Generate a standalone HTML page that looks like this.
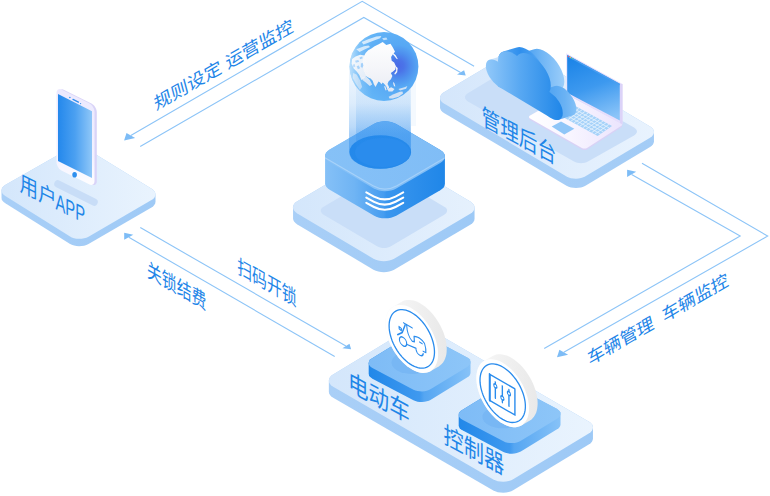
<!DOCTYPE html>
<html lang="zh"><head><meta charset="utf-8"><title>系统架构</title>
<style>html,body{margin:0;padding:0;background:#fff}svg{display:block}text{font-family:"Liberation Sans","Noto Sans CJK SC",sans-serif}</style></head>
<body><svg width="770" height="496" viewBox="0 0 770 496">
<defs><linearGradient id="p3t" x1="434.5" y1="0" x2="659.5" y2="0" gradientUnits="userSpaceOnUse"><stop offset="0" stop-color="#d4e6fb"/><stop offset="1" stop-color="#e9f3fe"/></linearGradient>
<linearGradient id="p3s" x1="434.5" y1="0" x2="659.5" y2="0" gradientUnits="userSpaceOnUse"><stop offset="0" stop-color="#a9cff7"/><stop offset="1" stop-color="#a3ccf6"/></linearGradient>
<linearGradient id="lb" x1="528" y1="0" x2="623" y2="0" gradientUnits="userSpaceOnUse"><stop offset="0" stop-color="#ffffff"/><stop offset="0.45" stop-color="#f8f5ff"/><stop offset="1" stop-color="#ebe4fd"/></linearGradient>
<linearGradient id="ls" x1="575" y1="55" x2="600" y2="122" gradientUnits="userSpaceOnUse"><stop offset="0" stop-color="#1a83e7"/><stop offset="0.5" stop-color="#3d99ef"/><stop offset="1" stop-color="#8ac4f8"/></linearGradient>
<linearGradient id="cf" x1="0" y1="0" x2="78" y2="0" gradientUnits="userSpaceOnUse"><stop offset="0" stop-color="#93c9f9"/><stop offset="0.45" stop-color="#58a8f2"/><stop offset="1" stop-color="#1f86e8"/></linearGradient>
<linearGradient id="csl" x1="0" y1="0" x2="30" y2="0" gradientUnits="userSpaceOnUse"><stop offset="0" stop-color="#d3e7fc"/><stop offset="1" stop-color="#b9dafa"/></linearGradient>
<linearGradient id="csm" x1="20" y1="0" x2="50" y2="0" gradientUnits="userSpaceOnUse"><stop offset="0" stop-color="#4da1f1"/><stop offset="0.5" stop-color="#2f8fed"/><stop offset="1" stop-color="#4da1f1"/></linearGradient>
<linearGradient id="csb" x1="35" y1="0" x2="82" y2="0" gradientUnits="userSpaceOnUse"><stop offset="0" stop-color="#3d98ee"/><stop offset="0.45" stop-color="#6fb5f5"/><stop offset="1" stop-color="#a0d0fa"/></linearGradient>
<linearGradient id="csr" x1="62" y1="0" x2="92" y2="0" gradientUnits="userSpaceOnUse"><stop offset="0" stop-color="#4fa3f1"/><stop offset="0.6" stop-color="#6ab2f4"/><stop offset="1" stop-color="#86c2f7"/></linearGradient>
<linearGradient id="p1t" x1="-4" y1="0" x2="161" y2="0" gradientUnits="userSpaceOnUse"><stop offset="0" stop-color="#d3e6fb"/><stop offset="1" stop-color="#eaf4fe"/></linearGradient>
<linearGradient id="p1s" x1="-4" y1="0" x2="161" y2="0" gradientUnits="userSpaceOnUse"><stop offset="0" stop-color="#a9cff7"/><stop offset="1" stop-color="#9fcaf6"/></linearGradient>
<linearGradient id="pb" x1="0" y1="90" x2="0" y2="187" gradientUnits="userSpaceOnUse"><stop offset="0" stop-color="#ece9fe"/><stop offset="0.7" stop-color="#f3f1ff"/><stop offset="1" stop-color="#ffffff"/></linearGradient>
<linearGradient id="ps" x1="58" y1="0" x2="92" y2="0" gradientUnits="userSpaceOnUse"><stop offset="0" stop-color="#2488ec"/><stop offset="0.5" stop-color="#4ba0f1"/><stop offset="1" stop-color="#8fc7f8"/></linearGradient>
<linearGradient id="p2t" x1="287" y1="0" x2="480.6" y2="0" gradientUnits="userSpaceOnUse"><stop offset="0" stop-color="#d3e6fb"/><stop offset="1" stop-color="#e6f1fd"/></linearGradient>
<linearGradient id="p2s" x1="287" y1="0" x2="480.6" y2="0" gradientUnits="userSpaceOnUse"><stop offset="0" stop-color="#a9cff7"/><stop offset="0.5" stop-color="#a3ccf6"/><stop offset="1" stop-color="#9dc9f6"/></linearGradient>
<linearGradient id="bs" x1="324" y1="0" x2="446" y2="0" gradientUnits="userSpaceOnUse"><stop offset="0" stop-color="#86c1f7"/><stop offset="0.25" stop-color="#6fb4f4"/><stop offset="0.49" stop-color="#459cf0"/><stop offset="0.51" stop-color="#3a96ee"/><stop offset="1" stop-color="#1f86e8"/></linearGradient>
<linearGradient id="bt" x1="324" y1="0" x2="446" y2="0" gradientUnits="userSpaceOnUse"><stop offset="0" stop-color="#86c1f7"/><stop offset="1" stop-color="#80bdf6"/></linearGradient>
<linearGradient id="cy" x1="0" y1="70" x2="0" y2="165" gradientUnits="userSpaceOnUse"><stop offset="0" stop-color="#2a8ced" stop-opacity="0.07"/><stop offset="0.35" stop-color="#2a8ced" stop-opacity="0.16"/><stop offset="0.6" stop-color="#2a8ced" stop-opacity="0.32"/><stop offset="0.68" stop-color="#2a8ced" stop-opacity="0.42"/><stop offset="1" stop-color="#2a8ced" stop-opacity="0.5"/></linearGradient>
<linearGradient id="cyi" x1="0" y1="70" x2="0" y2="165" gradientUnits="userSpaceOnUse"><stop offset="0" stop-color="#2a8ced" stop-opacity="0.05"/><stop offset="0.35" stop-color="#2a8ced" stop-opacity="0.08"/><stop offset="0.62" stop-color="#2a8ced" stop-opacity="0.22"/><stop offset="1" stop-color="#2a8ced" stop-opacity="0.3"/></linearGradient>
<radialGradient id="gl" gradientUnits="userSpaceOnUse" cx="398" cy="66" r="50"><stop offset="0" stop-color="#4a6ae6"/><stop offset="0.12" stop-color="#4b74e8"/><stop offset="0.26" stop-color="#4e8fee"/><stop offset="0.42" stop-color="#57a8f4"/><stop offset="1" stop-color="#68baf8"/></radialGradient>
<clipPath id="gc"><circle cx="384" cy="66.5" r="34.4"/></clipPath>
<linearGradient id="land" x1="0" y1="40" x2="0" y2="100" gradientUnits="userSpaceOnUse"><stop offset="0" stop-color="#ffffff"/><stop offset="0.5" stop-color="#f4f5f9"/><stop offset="1" stop-color="#e4e8f2"/></linearGradient>
<linearGradient id="limb" x1="349.6" y1="0" x2="372" y2="0" gradientUnits="userSpaceOnUse"><stop offset="0" stop-color="#ffffff" stop-opacity="0.55"/><stop offset="0.4" stop-color="#ffffff" stop-opacity="0.18"/><stop offset="1" stop-color="#ffffff" stop-opacity="0"/></linearGradient>
<linearGradient id="p4t" x1="322.8" y1="0" x2="599" y2="0" gradientUnits="userSpaceOnUse"><stop offset="0" stop-color="#d3e6fb"/><stop offset="1" stop-color="#eaf4fe"/></linearGradient>
<linearGradient id="p4s" x1="322.8" y1="0" x2="599" y2="0" gradientUnits="userSpaceOnUse"><stop offset="0" stop-color="#a9cff7"/><stop offset="0.6" stop-color="#a3ccf6"/><stop offset="1" stop-color="#9dc9f6"/></linearGradient>
<linearGradient id="b1s" x1="363.6" y1="0" x2="475.6" y2="0" gradientUnits="userSpaceOnUse"><stop offset="0" stop-color="#1f86e8"/><stop offset="0.5" stop-color="#3f99ef"/><stop offset="0.54" stop-color="#55a6f2"/><stop offset="1" stop-color="#8cc5f8"/></linearGradient>
<linearGradient id="b1t" x1="363.6" y1="0" x2="475.6" y2="0" gradientUnits="userSpaceOnUse"><stop offset="0" stop-color="#7dbbf6"/><stop offset="1" stop-color="#8ec6f8"/></linearGradient>
<linearGradient id="rim411" x1="391.8" y1="0" x2="445.8" y2="0" gradientUnits="userSpaceOnUse"><stop offset="0" stop-color="#f6f6f6"/><stop offset="1" stop-color="#e9e9e9"/></linearGradient>
<linearGradient id="b2s" x1="453.6" y1="0" x2="565.6" y2="0" gradientUnits="userSpaceOnUse"><stop offset="0" stop-color="#1f86e8"/><stop offset="0.5" stop-color="#3f99ef"/><stop offset="0.54" stop-color="#55a6f2"/><stop offset="1" stop-color="#8cc5f8"/></linearGradient>
<linearGradient id="b2t" x1="453.6" y1="0" x2="565.6" y2="0" gradientUnits="userSpaceOnUse"><stop offset="0" stop-color="#7dbbf6"/><stop offset="1" stop-color="#8ec6f8"/></linearGradient>
<linearGradient id="rim502" x1="482.7" y1="0" x2="536.7" y2="0" gradientUnits="userSpaceOnUse"><stop offset="0" stop-color="#f6f6f6"/><stop offset="1" stop-color="#e9e9e9"/></linearGradient></defs>
<polyline points="130.8,135.4 362.2,1.3 474.1,66.2" fill="none" stroke="#8cc4f7" stroke-width="1.1"/>
<polygon points="126.5,132.9 124.1,140.4 135.2,137.9" fill="#7dbcf6"/>
<polyline points="140.2,146.5 363.8,17.5 460.6,72.4" fill="none" stroke="#8cc4f7" stroke-width="1.1"/>
<polygon points="464.1,70.2 457.0,74.5 465.7,75.6" fill="#7dbcf6"/>
<polyline points="631.6,174.4 740.2,236.0 544.2,348.6" fill="none" stroke="#8cc4f7" stroke-width="1.1"/>
<polygon points="627.1,169.8 627.1,177.0 636.2,171.8" fill="#7dbcf6"/>
<polyline points="642.0,163.3 767.7,236.1 563.8,352.3" fill="none" stroke="#8cc4f7" stroke-width="1.1"/>
<polygon points="559.4,349.8 557.0,357.3 568.1,354.8" fill="#7dbcf6"/>
<polyline points="140.3,227.6 345.9,346.0" fill="none" stroke="#8cc4f7" stroke-width="1.1"/>
<polygon points="349.5,343.8 342.4,348.2 351.1,349.2" fill="#7dbcf6"/>
<polyline points="128.8,237.3 334.7,356.5" fill="none" stroke="#8cc4f7" stroke-width="1.1"/>
<polygon points="124.2,232.7 124.2,239.8 133.3,234.7" fill="#7dbcf6"/>
<path d="M440.03 97.99 L440.28 96.47 L441.01 94.99 L442.23 93.60 L443.94 92.35 L508.56 53.65 L510.66 52.63 L512.98 51.89 L515.46 51.45 L518.01 51.30 L520.56 51.44 L523.03 51.87 L525.36 52.60 L527.46 53.62 L650.04 126.39 L651.76 127.63 L652.98 129.01 L653.72 130.49 L653.97 132.01 L653.97 141.31 L653.72 142.83 L652.99 144.31 L651.77 145.70 L650.06 146.95 L585.44 185.65 L583.34 186.67 L581.02 187.41 L578.54 187.85 L575.99 188.00 L573.44 187.86 L570.97 187.43 L568.64 186.70 L566.54 185.69 L443.96 112.92 L442.24 111.67 L441.02 110.28 L440.28 108.81 L440.03 107.29Z" fill="url(#p3s)"/>
<path d="M443.96 103.62 L442.24 102.37 L441.02 100.99 L440.28 99.51 L440.03 97.99 L440.28 96.47 L441.01 94.99 L442.23 93.60 L443.94 92.35 L508.56 53.65 L510.66 52.63 L512.98 51.89 L515.45 51.45 L518.01 51.30 L520.56 51.44 L523.04 51.87 L525.36 52.60 L527.46 53.62 L650.04 126.38 L651.76 127.63 L652.98 129.01 L653.72 130.49 L653.97 132.01 L653.72 133.53 L652.99 135.01 L651.77 136.40 L650.06 137.65 L585.44 176.35 L583.34 177.37 L581.02 178.11 L578.55 178.55 L575.99 178.70 L573.44 178.56 L570.96 178.13 L568.64 177.40 L566.54 176.38Z" fill="url(#p3t)"/>
<path d="M467.96 101.44 L466.70 100.56 L465.79 99.58 L465.24 98.53 L465.04 97.44 L465.20 96.34 L465.72 95.27 L466.60 94.26 L467.83 93.34 L511.67 66.66 L513.19 65.90 L514.87 65.35 L516.68 65.00 L518.54 64.87 L520.41 64.94 L522.22 65.22 L523.93 65.72 L525.47 66.43 L634.03 127.57 L635.29 128.45 L636.20 129.41 L636.74 130.44 L636.92 131.51 L636.74 132.57 L636.20 133.60 L635.30 134.57 L634.04 135.44 L587.96 161.56 L586.42 162.27 L584.70 162.78 L582.88 163.09 L581.00 163.19 L579.12 163.09 L577.30 162.78 L575.58 162.27 L574.04 161.56Z" fill="#c9def8"/>
<path d="M529.03 117.00 L529.09 116.60 L529.30 116.21 L529.63 115.84 L530.11 115.52 L564.39 95.98 L564.97 95.71 L565.62 95.52 L566.30 95.39 L567.01 95.35 L567.72 95.37 L568.41 95.48 L569.06 95.65 L569.65 95.91 L620.85 123.09 L621.33 123.41 L621.68 123.77 L621.90 124.16 L621.98 124.56 L621.98 126.06 L621.93 126.47 L621.75 126.88 L621.43 127.26 L620.97 127.62 L587.03 149.38 L586.46 149.68 L585.84 149.89 L585.17 150.03 L584.48 150.09 L583.78 150.07 L583.11 149.97 L582.47 149.78 L581.89 149.51 L530.11 119.99 L529.63 119.66 L529.30 119.29 L529.09 118.90 L529.03 118.50Z" fill="#d9d2f6"/>
<path d="M530.11 118.49 L529.63 118.16 L529.30 117.79 L529.09 117.40 L529.03 117.00 L529.09 116.60 L529.30 116.21 L529.63 115.84 L530.11 115.52 L564.39 95.98 L564.97 95.71 L565.62 95.52 L566.30 95.39 L567.01 95.35 L567.72 95.37 L568.41 95.48 L569.06 95.65 L569.65 95.91 L620.85 123.09 L621.33 123.41 L621.68 123.77 L621.90 124.16 L621.98 124.56 L621.93 124.97 L621.75 125.38 L621.43 125.76 L620.97 126.12 L587.03 147.88 L586.46 148.18 L585.84 148.39 L585.17 148.53 L584.48 148.59 L583.78 148.57 L583.11 148.47 L582.47 148.28 L581.89 148.01Z" fill="url(#lb)"/>
<path d="M550.00 110.00 L564.40 100.00 L612.00 125.90 L597.60 135.90Z" fill="#a6d2f9"/>
<path d="M552.9 108.0L600.5 133.9M555.8 106.0L603.4 131.9M558.6 104.0L606.2 129.9M561.5 102.0L609.1 127.9M553.0 111.6L567.4 101.6M556.0 113.2L570.4 103.2M558.9 114.9L573.3 104.9M561.9 116.5L576.3 106.5M564.9 118.1L579.3 108.1M567.9 119.7L582.2 109.7M570.8 121.3L585.2 111.3M573.8 123.0L588.2 113.0M576.8 124.6L591.2 114.6M579.8 126.2L594.1 116.2M582.7 127.8L597.1 117.8M585.7 129.4L600.1 119.4M588.7 131.0L603.1 121.0M591.6 132.7L606.0 122.7M594.6 134.3L609.0 124.3" stroke="#e6f2fe" stroke-width="0.8" fill="none"/>
<path d="M551.70 126.60 L561.00 121.50 L574.30 128.80 L564.30 134.40Z" fill="#8fc6f8"/>
<path d="M566.30 53.30 L622.50 84.00 L622.50 124.50 L566.30 94.00Z" fill="#e6defc"/>
<path d="M620 84 L622.5 84 L622.5 124.5 L620 123Z" fill="#dcd3f8"/>
<path d="M567.20 55.00 L619.80 83.80 L619.80 120.40 L567.20 92.70Z" fill="url(#ls)"/>
<path d="M567.2 55 L619.8 83.8 L619.8 85.2 L567.2 56.4Z" fill="#4a9ff0"/>
<circle cx="568.4" cy="56.4" r="0.7" fill="#f0506e"/><circle cx="570.4" cy="57.5" r="0.7" fill="#f5c04a"/><circle cx="572.4" cy="58.6" r="0.7" fill="#5ed08a"/>
<g transform="matrix(1,0.65,0,1,485,0)">
<line x1="48.0" y1="43.0" x2="61.50" y2="30.02" stroke="url(#csb)" stroke-width="35.6" stroke-linecap="round"/>
<line x1="30.0" y1="52.0" x2="43.50" y2="39.02" stroke="url(#csm)" stroke-width="34.0" stroke-linecap="round"/>
<line x1="13.2" y1="65.5" x2="26.70" y2="52.52" stroke="url(#csl)" stroke-width="24.6" stroke-linecap="round"/>
<line x1="65.2" y1="62.6" x2="78.70" y2="49.62" stroke="url(#csr)" stroke-width="25.2" stroke-linecap="round"/>
<g fill="url(#cf)"><circle cx="13.2" cy="65.5" r="12.3"/><circle cx="30" cy="52" r="17"/><circle cx="48" cy="43" r="17.8"/><circle cx="65.2" cy="62.6" r="12.6"/><path d="M13.2 56 L30 40 L48 40 L65 52 L65.2 75.2 L13.2 77.8Z"/></g>
</g>
<path d="M1.53 190.32 L1.81 188.80 L2.57 187.33 L3.82 185.97 L5.56 184.76 L68.44 148.94 L70.56 147.96 L72.90 147.28 L75.39 146.88 L77.94 146.78 L80.50 146.97 L82.97 147.45 L85.28 148.22 L87.37 149.27 L151.63 188.83 L153.33 190.11 L154.53 191.51 L155.25 193.00 L155.47 194.53 L155.47 201.83 L155.21 203.35 L154.45 204.82 L153.21 206.19 L151.49 207.42 L88.51 243.98 L86.41 244.97 L84.08 245.67 L81.60 246.07 L79.06 246.17 L76.52 245.98 L74.05 245.50 L71.75 244.72 L69.68 243.66 L5.32 203.34 L3.64 202.05 L2.44 200.64 L1.74 199.15 L1.53 197.62Z" fill="url(#p1s)"/>
<path d="M5.32 196.04 L3.64 194.75 L2.44 193.34 L1.74 191.85 L1.53 190.32 L1.81 188.80 L2.57 187.33 L3.82 185.97 L5.56 184.76 L68.44 148.94 L70.56 147.96 L72.90 147.28 L75.39 146.88 L77.94 146.78 L80.50 146.97 L82.97 147.45 L85.29 148.22 L87.37 149.27 L151.63 188.83 L153.33 190.11 L154.53 191.51 L155.25 193.00 L155.47 194.53 L155.21 196.05 L154.45 197.52 L153.21 198.89 L151.49 200.12 L88.51 236.68 L86.41 237.67 L84.08 238.37 L81.60 238.77 L79.06 238.87 L76.51 238.68 L74.05 238.20 L71.75 237.42 L69.68 236.36Z" fill="url(#p1t)"/>
<line x1="58" y1="184" x2="94" y2="202" stroke="#c8ddf7" stroke-width="7.5" stroke-linecap="round"/>
<path d="M58.80 93.20 L58.91 92.05 L59.22 91.08 L59.72 90.30 L60.37 89.74 L61.17 89.41 L62.08 89.31 L63.08 89.46 L64.17 89.88 L91.43 103.52 L92.52 104.18 L93.52 105.03 L94.43 106.04 L95.23 107.17 L95.88 108.39 L96.38 109.65 L96.69 110.94 L96.80 112.20 L96.80 181.20 L96.69 182.35 L96.38 183.32 L95.88 184.10 L95.23 184.66 L94.43 184.99 L93.52 185.09 L92.52 184.94 L91.43 184.52 L64.17 170.88 L63.08 170.22 L62.08 169.37 L61.17 168.36 L60.37 167.23 L59.72 166.01 L59.22 164.75 L58.91 163.46 L58.80 162.20Z" fill="#d9d4f8"/>
<path d="M56.50 93.00 L56.61 91.85 L56.92 90.88 L57.42 90.10 L58.07 89.54 L58.87 89.21 L59.78 89.11 L60.78 89.26 L61.87 89.68 L89.13 103.32 L90.22 103.98 L91.22 104.83 L92.13 105.84 L92.93 106.97 L93.58 108.19 L94.08 109.45 L94.39 110.74 L94.50 112.00 L94.50 181.00 L94.39 182.15 L94.08 183.12 L93.58 183.90 L92.93 184.46 L92.13 184.79 L91.22 184.89 L90.22 184.74 L89.13 184.32 L61.87 170.68 L60.78 170.02 L59.78 169.17 L58.87 168.16 L58.07 167.03 L57.42 165.81 L56.92 164.55 L56.61 163.26 L56.50 162.00Z" fill="url(#pb)"/>
<path d="M58 94 L92 111.2 L92 178 L58 161Z" fill="url(#ps)"/>
<ellipse cx="74.6" cy="174.8" rx="2.3" ry="2.8" fill="#2d8fee"/>
<line x1="73" y1="99.4" x2="78.4" y2="102.1" stroke="#2f8fed" stroke-width="1.3" stroke-linecap="round"/><circle cx="69.9" cy="97.4" r="0.75" fill="#2f8fed"/><circle cx="80.6" cy="103.6" r="0.6" fill="#2f8fed"/>
<path d="M293.05 207.31 L293.32 205.66 L294.12 204.06 L295.46 202.56 L297.34 201.20 L373.46 156.30 L375.76 155.19 L378.30 154.41 L381.00 153.94 L383.80 153.78 L386.58 153.94 L389.29 154.42 L391.83 155.22 L394.12 156.33 L470.28 201.57 L472.15 202.93 L473.49 204.44 L474.29 206.04 L474.55 207.69 L474.55 218.69 L474.28 220.34 L473.48 221.94 L472.14 223.44 L470.26 224.80 L394.14 269.70 L391.84 270.81 L389.30 271.60 L386.60 272.06 L383.81 272.22 L381.02 272.06 L378.31 271.58 L375.77 270.78 L373.48 269.67 L297.32 224.43 L295.45 223.07 L294.11 221.56 L293.31 219.96 L293.05 218.31Z" fill="url(#p2s)"/>
<path d="M297.32 213.43 L295.45 212.07 L294.11 210.56 L293.31 208.96 L293.05 207.31 L293.32 205.66 L294.12 204.06 L295.46 202.56 L297.34 201.20 L373.46 156.30 L375.76 155.19 L378.30 154.41 L381.01 153.93 L383.79 153.78 L386.58 153.94 L389.29 154.42 L391.83 155.22 L394.12 156.33 L470.28 201.57 L472.15 202.93 L473.49 204.44 L474.29 206.04 L474.55 207.69 L474.28 209.34 L473.48 210.94 L472.14 212.44 L470.26 213.80 L394.14 258.70 L391.84 259.81 L389.30 260.59 L386.59 261.07 L383.81 261.22 L381.02 261.06 L378.31 260.58 L375.77 259.78 L373.48 258.67Z" fill="url(#p2t)"/>
<path d="M323.69 214.77 L322.44 213.87 L321.55 212.87 L321.01 211.80 L320.83 210.70 L321.01 209.60 L321.55 208.53 L322.44 207.53 L323.69 206.63 L377.11 175.07 L378.64 174.33 L380.33 173.81 L382.14 173.49 L384.00 173.38 L385.86 173.49 L387.66 173.81 L389.36 174.34 L390.89 175.07 L444.21 206.63 L445.46 207.53 L446.35 208.53 L446.89 209.60 L447.07 210.70 L446.89 211.80 L446.35 212.87 L445.46 213.87 L444.21 214.77 L390.89 246.33 L389.36 247.06 L387.66 247.59 L385.86 247.91 L384.00 248.02 L382.14 247.91 L380.33 247.59 L378.64 247.07 L377.11 246.33Z" fill="#c9def8"/>
<path d="M325.08 156.02 L325.38 154.25 L326.25 152.54 L327.71 150.93 L329.75 149.49 L373.75 124.01 L376.25 122.83 L379.01 122.00 L381.95 121.50 L384.99 121.33 L388.02 121.51 L390.96 122.03 L393.73 122.88 L396.21 124.08 L440.29 149.92 L442.32 151.38 L443.77 153.00 L444.63 154.71 L444.92 156.48 L444.92 183.68 L444.62 185.45 L443.75 187.16 L442.29 188.77 L440.25 190.21 L396.25 215.69 L393.75 216.87 L390.99 217.71 L388.05 218.21 L385.01 218.37 L381.98 218.19 L379.04 217.67 L376.27 216.82 L373.79 215.62 L329.71 189.78 L327.68 188.32 L326.23 186.71 L325.37 184.99 L325.08 183.22Z" fill="url(#bs)"/>
<path d="M329.71 162.58 L327.68 161.12 L326.23 159.50 L325.37 157.79 L325.08 156.02 L325.38 154.25 L326.25 152.54 L327.71 150.93 L329.75 149.49 L373.75 124.01 L376.24 122.83 L379.01 121.99 L381.95 121.49 L384.99 121.33 L388.02 121.51 L390.96 122.03 L393.73 122.88 L396.21 124.08 L440.29 149.92 L442.32 151.38 L443.77 153.00 L444.63 154.71 L444.92 156.48 L444.62 158.25 L443.75 159.96 L442.29 161.57 L440.25 163.01 L396.25 188.49 L393.76 189.67 L390.99 190.51 L388.05 191.01 L385.01 191.17 L381.98 190.99 L379.04 190.47 L376.27 189.62 L373.79 188.42Z" fill="url(#bt)"/>
<path d="M324.5 157.5 L373 185.8 Q385 192.5 397 185.8 L445.5 157.5" fill="none" stroke="#fff" stroke-opacity="0.28" stroke-width="1.2"/>
<path d="M366.3 192.4 L374 196.6 Q384.8 202.2 395.5 196.6 L403.2 192.4" fill="none" stroke="#fff" stroke-width="2.1" stroke-linecap="round"/>
<path d="M366.3 197.6 L374 201.8 Q384.8 207.4 395.5 201.8 L403.2 197.6" fill="none" stroke="#fff" stroke-width="2.1" stroke-linecap="round"/>
<path d="M366.3 202.8 L374 207.0 Q384.8 212.6 395.5 207.0 L403.2 202.8" fill="none" stroke="#fff" stroke-width="2.1" stroke-linecap="round"/>
<ellipse cx="380.3" cy="152" rx="30.8" ry="16.7" fill="#1f86e8"/>
<ellipse cx="382.5" cy="152.5" rx="27.5" ry="14.5" fill="#2a8ced"/>
<path d="M349 66 L349 152 A31 16.7 0 0 0 411 152 L411 66Z" fill="url(#cy)"/>
<path d="M356 66 L356 152.5 A27.2 14.5 0 0 0 410.4 152.5 L410.4 66Z" fill="url(#cyi)"/>
<rect x="411" y="66" width="5" height="60" fill="#2a8ced" opacity="0.05"/>
<circle cx="384" cy="66.5" r="34.4" fill="url(#gl)"/>
<g clip-path="url(#gc)" fill="url(#land)"><path d="M352.1 59.1L355.6 56.6L360.1 54.7L364.6 55.4L364.0 68.7L364.6 72.8L366.3 76.3L364.0 78.3L361.4 79.9L359.3 75.0L356.9 71.8L353.7 68.6L351.6 63.7Z" opacity="0.9"/><path d="M353.0 73.1L356.6 74.4L360.1 80.5L362.1 87.0L359.8 89.9L356.3 84.4L352.7 77.9Z" opacity="0.55"/><path d="M362.1 77.3L366.6 77.0L369.8 80.0L372.2 84.4L369.8 86.0L365.8 82.5L362.5 80.0Z" opacity="0.8"/><path d="M382.7 42.1L386.3 45.0L390.5 43.7L393.0 47.8L395.0 51.8L392.7 54.4L391.1 57.0L391.7 60.7L394.2 62.5L395.9 66.3L395.3 69.5L392.7 71.8L390.8 73.1L392.4 76.0L390.9 79.2L388.5 81.6L387.5 84.1L389.2 87.3L387.7 89.9L386.3 86.6L384.3 84.1L382.7 82.5L381.4 84.2L380.1 82.5L378.5 81.6L377.1 84.1L375.5 87.0L373.8 84.1L372.7 80.8L370.6 78.6L368.2 77.6L365.8 76.0L364.2 72.8L363.4 68.7L361.9 64.7L362.7 60.7L363.8 56.6L365.6 53.1L368.2 50.2L371.4 48.6L374.6 46.2L378.7 44.2Z"/><path d="M392.8 52.7L395.7 55.3L397.9 59.2L396.5 58.7L394.3 56.0L392.6 54.1Z"/><path d="M395.0 65.5L397.7 68.1L397.2 72.2L395.0 74.7L394.3 73.5L396.2 70.8L396.0 68.1Z"/><path d="M393.1 81.7L394.5 83.4L395.3 86.5L394.1 86.3L393.3 84.1Z"/><path d="M384.1 86.3L385.3 86.3L386.6 89.9L385.6 90.4Z"/><path d="M387.5 88.9L391.2 87.2L394.5 88.9L392.4 91.4L388.5 91.4Z" opacity="0.95"/><path d="M398.4 88.9L404.5 87.2L407.4 86.0L406.1 88.7L400.1 90.4Z" opacity="0.8"/><path d="M388.7 96.7L393.6 94.3L399.9 91.8L402.5 91.4L403.0 93.5L398.6 96.7L392.8 98.6L389.5 98.6Z" opacity="0.85"/><path d="M361.7 42.1L368.2 39.2L376.3 36.6L381.4 36.0L380.1 38.3L374.0 40.5L368.2 42.8L363.4 44.4Z" opacity="0.7"/><path d="M356.3 49.2L364.0 46.3L368.5 45.4L370.1 47.0L365.0 49.2L359.5 52.1Z" opacity="0.7"/><path d="M382.1 38.3L386.3 37.6L387.5 39.5L383.7 40.2Z" opacity="0.6"/><path d="M360.9 63.4L362.7 62.8L363.4 65.7L362.1 68.3L360.8 66.3Z" fill="#86c1f8" opacity="0.85"/><path d="M355.0 60.8L358.2 59.9L359.2 61.8L355.9 62.8Z" fill="#86c1f8" opacity="0.85"/><path d="M352.7 64.7L354.6 64.1L355.3 66.6L353.4 67.6Z" fill="#86c1f8" opacity="0.85"/><path d="M356.6 66.3L358.8 65.4L360.1 68.3L357.9 69.2Z" fill="#86c1f8" opacity="0.85"/><path d="M359.5 57.6L362.1 56.6L362.7 58.3L360.1 59.2Z" fill="#86c1f8" opacity="0.85"/></g>
<circle cx="384" cy="66.5" r="34.4" fill="url(#limb)"/>
<path d="M328.85 380.64 L329.10 378.99 L329.89 377.38 L331.21 375.86 L333.07 374.49 L408.23 329.01 L410.51 327.88 L413.05 327.07 L415.75 326.57 L418.53 326.38 L421.32 326.51 L424.03 326.96 L426.58 327.73 L428.88 328.82 L588.62 421.38 L590.50 422.72 L591.85 424.21 L592.67 425.81 L592.95 427.46 L592.95 438.46 L592.70 440.11 L591.91 441.72 L590.59 443.24 L588.73 444.61 L513.57 490.09 L511.29 491.22 L508.75 492.03 L506.05 492.53 L503.27 492.72 L500.48 492.59 L497.77 492.14 L495.22 491.37 L492.92 490.28 L333.18 397.72 L331.30 396.38 L329.95 394.89 L329.13 393.29 L328.85 391.64Z" fill="url(#p4s)"/>
<path d="M333.18 386.72 L331.30 385.38 L329.95 383.89 L329.13 382.29 L328.85 380.64 L329.10 378.99 L329.89 377.38 L331.21 375.86 L333.07 374.49 L408.23 329.01 L410.51 327.88 L413.05 327.07 L415.75 326.57 L418.53 326.38 L421.32 326.51 L424.03 326.96 L426.58 327.73 L428.88 328.82 L588.62 421.38 L590.50 422.72 L591.85 424.21 L592.67 425.81 L592.95 427.46 L592.70 429.11 L591.91 430.72 L590.59 432.24 L588.73 433.61 L513.57 479.09 L511.29 480.22 L508.75 481.03 L506.05 481.53 L503.27 481.72 L500.48 481.59 L497.77 481.14 L495.22 480.37 L492.92 479.28Z" fill="url(#p4t)"/>
<path d="M368.69 363.24 L368.88 361.90 L369.51 360.59 L370.60 359.34 L372.14 358.19 L408.36 336.11 L410.26 335.15 L412.38 334.45 L414.65 333.99 L416.99 333.79 L419.34 333.84 L421.63 334.15 L423.79 334.73 L425.75 335.56 L466.75 357.14 L468.36 358.19 L469.52 359.36 L470.24 360.63 L470.51 361.96 L470.51 372.56 L470.32 373.90 L469.69 375.21 L468.60 376.46 L467.06 377.61 L430.84 399.69 L428.94 400.65 L426.82 401.35 L424.55 401.81 L422.21 402.01 L419.86 401.96 L417.57 401.65 L415.41 401.07 L413.45 400.24 L372.45 378.66 L370.84 377.61 L369.68 376.44 L368.96 375.17 L368.69 373.84Z" fill="url(#b1s)"/>
<path d="M372.45 368.06 L370.84 367.01 L369.68 365.84 L368.96 364.56 L368.69 363.24 L368.88 361.90 L369.51 360.59 L370.60 359.34 L372.14 358.19 L408.36 336.11 L410.26 335.15 L412.38 334.45 L414.65 333.99 L416.99 333.79 L419.34 333.84 L421.63 334.15 L423.79 334.73 L425.75 335.56 L466.75 357.14 L468.36 358.19 L469.52 359.36 L470.24 360.64 L470.51 361.96 L470.32 363.30 L469.69 364.61 L468.60 365.86 L467.06 367.01 L430.84 389.09 L428.94 390.05 L426.82 390.75 L424.55 391.21 L422.21 391.41 L419.86 391.36 L417.57 391.05 L415.41 390.47 L413.45 389.64Z" fill="url(#b1t)"/>
<ellipse cx="412.5" cy="362.5" rx="21" ry="11.5" fill="#78b7f4"/>
<path d="M385.47 323.70 L385.57 321.11 L385.87 318.65 L386.37 316.35 L387.06 314.22 L387.94 312.28 L389.00 310.54 L390.24 309.01 L391.63 307.71 L393.18 306.66 L401.78 301.66 L403.48 300.84 L405.30 300.28 L407.24 299.97 L409.27 299.92 L411.40 300.13 L413.59 300.60 L415.83 301.32 L418.11 302.29 L420.40 303.50 L422.69 304.94 L424.97 306.60 L427.21 308.47 L429.40 310.53 L431.53 312.77 L433.56 315.17 L435.50 317.72 L437.32 320.38 L439.02 323.15 L440.57 326.00 L441.96 328.91 L443.20 331.86 L444.26 334.83 L445.14 337.79 L445.83 340.71 L446.33 343.59 L446.63 346.39 L446.73 349.10 L446.63 351.69 L446.33 354.15 L445.83 356.45 L445.14 358.58 L444.26 360.52 L443.20 362.26 L441.96 363.79 L440.57 365.08 L439.02 366.14 L430.42 371.14 L428.72 371.96 L426.90 372.52 L424.96 372.83 L422.93 372.88 L420.80 372.67 L418.61 372.20 L416.37 371.48 L414.09 370.51 L411.80 369.30 L409.51 367.86 L407.23 366.20 L404.99 364.33 L402.80 362.27 L400.67 360.03 L398.64 357.63 L396.70 355.08 L394.88 352.42 L393.18 349.65 L391.63 346.80 L390.24 343.89 L389.00 340.94 L387.94 337.97 L387.06 335.01 L386.37 332.09 L385.87 329.21 L385.57 326.41Z" fill="url(#rim411)"/>
<path d="M438.13 354.10 L438.03 356.69 L437.73 359.15 L437.23 361.45 L436.54 363.58 L435.66 365.52 L434.60 367.26 L433.37 368.79 L431.97 370.08 L430.42 371.14 L428.72 371.96 L426.90 372.52 L424.96 372.83 L422.93 372.88 L420.80 372.67 L418.61 372.20 L416.37 371.48 L414.09 370.51 L411.80 369.30 L409.51 367.86 L407.23 366.20 L404.99 364.33 L402.80 362.27 L400.67 360.03 L398.64 357.63 L396.70 355.08 L394.88 352.42 L393.18 349.65 L391.63 346.80 L390.23 343.89 L389.00 340.94 L387.94 337.97 L387.06 335.01 L386.37 332.09 L385.87 329.21 L385.57 326.41 L385.47 323.70 L385.57 321.11 L385.87 318.65 L386.37 316.35 L387.06 314.22 L387.94 312.28 L389.00 310.54 L390.23 309.01 L391.63 307.72 L393.18 306.66 L394.88 305.84 L396.70 305.28 L398.64 304.97 L400.67 304.92 L402.80 305.13 L404.99 305.60 L407.23 306.32 L409.51 307.29 L411.80 308.50 L414.09 309.94 L416.37 311.60 L418.61 313.47 L420.80 315.53 L422.93 317.77 L424.96 320.17 L426.90 322.72 L428.72 325.38 L430.42 328.15 L431.97 331.00 L433.37 333.91 L434.60 336.86 L435.66 339.83 L436.54 342.79 L437.23 345.71 L437.73 348.59 L438.03 351.39Z" fill="#fff"/>
<path d="M434.49 352.00 L434.40 354.23 L434.14 356.35 L433.72 358.33 L433.12 360.17 L432.36 361.85 L431.45 363.34 L430.39 364.66 L429.18 365.78 L427.84 366.69 L426.38 367.39 L424.81 367.88 L423.14 368.14 L421.39 368.18 L419.56 368.00 L417.67 367.60 L415.74 366.98 L413.78 366.14 L411.80 365.10 L409.82 363.86 L407.86 362.43 L405.93 360.82 L404.04 359.04 L402.21 357.11 L400.46 355.04 L398.79 352.85 L397.22 350.55 L395.76 348.16 L394.42 345.71 L393.21 343.20 L392.15 340.66 L391.24 338.10 L390.48 335.55 L389.88 333.03 L389.46 330.55 L389.20 328.13 L389.11 325.80 L389.20 323.57 L389.46 321.45 L389.88 319.47 L390.48 317.63 L391.24 315.95 L392.15 314.46 L393.21 313.14 L394.42 312.02 L395.76 311.11 L397.22 310.41 L398.79 309.92 L400.46 309.66 L402.21 309.62 L404.04 309.80 L405.93 310.20 L407.86 310.82 L409.82 311.66 L411.80 312.70 L413.78 313.94 L415.74 315.37 L417.67 316.98 L419.56 318.76 L421.39 320.69 L423.14 322.76 L424.81 324.95 L426.38 327.25 L427.84 329.64 L429.18 332.09 L430.39 334.60 L431.45 337.14 L432.36 339.70 L433.12 342.25 L433.72 344.77 L434.14 347.25 L434.40 349.67Z" fill="none" stroke="#2a8ced" stroke-width="1.3"/>
<g transform="matrix(0.866,0.5,0,1,411.8,338.9)" fill="none" stroke="#2a8ced" stroke-width="1.35" stroke-linecap="round" stroke-linejoin="round"><path d="M-9.5 -11.3 H0.5"/><path d="M-6 -11.3 C-5.6 -5 -4 0 0.5 2.1 L3 1.3 L2.6 -3.7 C6 -6 11 -5.6 14.7 -2.9 C16 0 16.4 3 16.2 5.6 L13.2 5.9"/><path d="M-5.8 8.4 L4.8 6.9"/><circle cx="-10.1" cy="7.7" r="4.2"/><path d="M4.9 8.2 A4.2 4.2 0 0 0 13.2 8.2"/><path d="M-7.5 -10.5 L-11 -1 L-16.5 4"/><path d="M-14.7 -5 L-12 -4.4 L-12.2 -2 L-14.5 -2.6Z"/><path d="M9 -1.3 H12"/></g>
<path d="M458.69 414.94 L458.88 413.60 L459.51 412.29 L460.60 411.04 L462.14 409.89 L498.36 387.81 L500.26 386.85 L502.38 386.15 L504.65 385.69 L506.99 385.49 L509.34 385.54 L511.63 385.85 L513.79 386.43 L515.75 387.26 L556.75 408.84 L558.36 409.89 L559.52 411.06 L560.24 412.33 L560.51 413.66 L560.51 424.26 L560.33 425.60 L559.69 426.91 L558.60 428.16 L557.06 429.31 L520.84 451.39 L518.94 452.35 L516.82 453.05 L514.55 453.51 L512.21 453.71 L509.86 453.66 L507.57 453.35 L505.41 452.77 L503.45 451.94 L462.45 430.36 L460.84 429.31 L459.68 428.14 L458.96 426.87 L458.69 425.54Z" fill="url(#b2s)"/>
<path d="M462.45 419.76 L460.84 418.71 L459.68 417.54 L458.96 416.26 L458.69 414.94 L458.88 413.60 L459.51 412.29 L460.60 411.04 L462.14 409.89 L498.36 387.81 L500.26 386.85 L502.38 386.15 L504.65 385.69 L506.99 385.49 L509.34 385.54 L511.63 385.85 L513.79 386.43 L515.75 387.26 L556.75 408.84 L558.36 409.89 L559.52 411.06 L560.24 412.34 L560.51 413.66 L560.32 415.00 L559.69 416.31 L558.60 417.56 L557.06 418.71 L520.84 440.79 L518.94 441.75 L516.82 442.45 L514.55 442.91 L512.21 443.11 L509.86 443.06 L507.57 442.75 L505.41 442.17 L503.45 441.34Z" fill="url(#b2t)"/>
<ellipse cx="503.4" cy="416.8" rx="21" ry="11.5" fill="#78b7f4"/>
<path d="M476.37 378.00 L476.47 375.41 L476.77 372.95 L477.27 370.65 L477.96 368.52 L478.84 366.58 L479.90 364.84 L481.13 363.31 L482.53 362.01 L484.08 360.96 L492.68 355.96 L494.38 355.14 L496.20 354.58 L498.14 354.27 L500.17 354.22 L502.30 354.44 L504.49 354.90 L506.73 355.62 L509.01 356.59 L511.30 357.80 L513.59 359.24 L515.87 360.90 L518.11 362.77 L520.30 364.83 L522.43 367.07 L524.46 369.47 L526.40 372.02 L528.22 374.68 L529.92 377.45 L531.47 380.30 L532.87 383.21 L534.10 386.16 L535.16 389.13 L536.04 392.09 L536.73 395.01 L537.23 397.89 L537.53 400.69 L537.63 403.40 L537.53 405.99 L537.23 408.45 L536.73 410.75 L536.04 412.88 L535.16 414.82 L534.10 416.56 L532.87 418.09 L531.47 419.38 L529.92 420.44 L521.32 425.44 L519.62 426.26 L517.80 426.82 L515.86 427.13 L513.83 427.18 L511.70 426.96 L509.51 426.50 L507.27 425.78 L504.99 424.81 L502.70 423.60 L500.41 422.16 L498.13 420.50 L495.89 418.63 L493.70 416.57 L491.57 414.33 L489.54 411.93 L487.60 409.38 L485.78 406.72 L484.08 403.95 L482.53 401.10 L481.13 398.19 L479.90 395.24 L478.84 392.27 L477.96 389.31 L477.27 386.39 L476.77 383.51 L476.47 380.71Z" fill="url(#rim502)"/>
<path d="M529.03 408.40 L528.93 410.99 L528.63 413.45 L528.13 415.75 L527.44 417.88 L526.56 419.82 L525.50 421.56 L524.27 423.09 L522.87 424.38 L521.32 425.44 L519.62 426.26 L517.80 426.82 L515.86 427.13 L513.83 427.18 L511.70 426.97 L509.51 426.50 L507.27 425.78 L504.99 424.81 L502.70 423.60 L500.41 422.16 L498.13 420.50 L495.89 418.63 L493.70 416.57 L491.57 414.33 L489.54 411.93 L487.60 409.38 L485.78 406.72 L484.08 403.95 L482.53 401.10 L481.13 398.19 L479.90 395.24 L478.84 392.27 L477.96 389.31 L477.27 386.39 L476.77 383.51 L476.47 380.71 L476.37 378.00 L476.47 375.41 L476.77 372.95 L477.27 370.65 L477.96 368.52 L478.84 366.58 L479.90 364.84 L481.13 363.31 L482.53 362.02 L484.08 360.96 L485.78 360.14 L487.60 359.58 L489.54 359.27 L491.57 359.22 L493.70 359.43 L495.89 359.90 L498.13 360.62 L500.41 361.59 L502.70 362.80 L504.99 364.24 L507.27 365.90 L509.51 367.77 L511.70 369.83 L513.83 372.07 L515.86 374.47 L517.80 377.02 L519.62 379.68 L521.32 382.45 L522.87 385.30 L524.27 388.21 L525.50 391.16 L526.56 394.13 L527.44 397.09 L528.13 400.01 L528.63 402.89 L528.93 405.69Z" fill="#fff"/>
<path d="M525.39 406.30 L525.30 408.53 L525.04 410.65 L524.62 412.63 L524.02 414.47 L523.26 416.15 L522.35 417.64 L521.29 418.96 L520.08 420.08 L518.74 420.99 L517.28 421.69 L515.71 422.18 L514.04 422.44 L512.29 422.48 L510.46 422.30 L508.57 421.90 L506.64 421.28 L504.68 420.44 L502.70 419.40 L500.72 418.16 L498.76 416.73 L496.83 415.12 L494.94 413.34 L493.11 411.41 L491.36 409.34 L489.69 407.15 L488.12 404.85 L486.66 402.46 L485.32 400.01 L484.11 397.50 L483.05 394.96 L482.14 392.40 L481.38 389.85 L480.78 387.33 L480.36 384.85 L480.10 382.43 L480.01 380.10 L480.10 377.87 L480.36 375.75 L480.78 373.77 L481.38 371.93 L482.14 370.25 L483.05 368.76 L484.11 367.44 L485.32 366.32 L486.66 365.41 L488.12 364.71 L489.69 364.22 L491.36 363.96 L493.11 363.92 L494.94 364.10 L496.83 364.50 L498.76 365.12 L500.72 365.96 L502.70 367.00 L504.68 368.24 L506.64 369.67 L508.57 371.28 L510.46 373.06 L512.29 374.99 L514.04 377.06 L515.71 379.25 L517.28 381.55 L518.74 383.94 L520.08 386.39 L521.29 388.90 L522.35 391.44 L523.26 394.00 L524.02 396.55 L524.62 399.07 L525.04 401.55 L525.30 403.97Z" fill="none" stroke="#2a8ced" stroke-width="1.3"/>
<g transform="matrix(0.866,0.5,0,1,502.7,393.2)" fill="none" stroke="#2a8ced" stroke-width="1.35" stroke-linecap="round" stroke-linejoin="round"><path d="M-15 -11.4 H14.1 V14.8 H-15Z" stroke-width="1.6"/><path d="M-15 -11.4 V14.8" stroke-width="2.2"/><path d="M-8.5 -7 V9.2 M-0.4 -7 V9.5 M7.2 -7.2 V9.3" stroke-width="1.6"/><circle cx="-8.5" cy="-3" r="1.8" fill="#fff"/><circle cx="-0.4" cy="5" r="1.8" fill="#fff"/><circle cx="7.2" cy="-3.3" r="1.8" fill="#fff"/></g>
<text transform="matrix(1.0,0.49,0,1.22,19.5,190.6)" font-size="18.5" font-weight="400" fill="#1f86e8">用户</text>
<text transform="matrix(0.8,0.4,0,1.25,55.5,209.0)" font-size="18.5" font-weight="400" fill="#1f86e8">APP</text>
<text transform="matrix(1.01,0.545,0,1.27,481.5,124.2)" font-size="18.5" font-weight="400" fill="#1f86e8">管理后台</text>
<text transform="matrix(0.98,0.53,0,1.18,348.0,389.8)" font-size="21" font-weight="400" fill="#1f86e8">电动车</text>
<text transform="matrix(0.963,0.52,0,1.15,443.5,442.5)" font-size="21" font-weight="400" fill="#1f86e8">控制器</text>
<text transform="matrix(0.9,0.51,0,1.25,237.2,273.0)" font-size="16.5" font-weight="400" fill="#1f86e8">扫码开锁</text>
<text transform="matrix(0.9,0.51,0,1.25,147.0,276.5)" font-size="16.5" font-weight="400" fill="#1f86e8">关锁结费</text>
<text transform="matrix(0.954,-0.55,0.25,0.94,156.0,110.5)" font-size="17.5" font-weight="400" fill="#1f86e8">规则设定 运营监控</text>
<text transform="matrix(0.935,-0.54,0.25,0.94,589.5,365.5)" font-size="17.5" font-weight="400" fill="#1f86e8">车辆管理&#160;&#160;车辆监控</text>
</svg></body></html>
